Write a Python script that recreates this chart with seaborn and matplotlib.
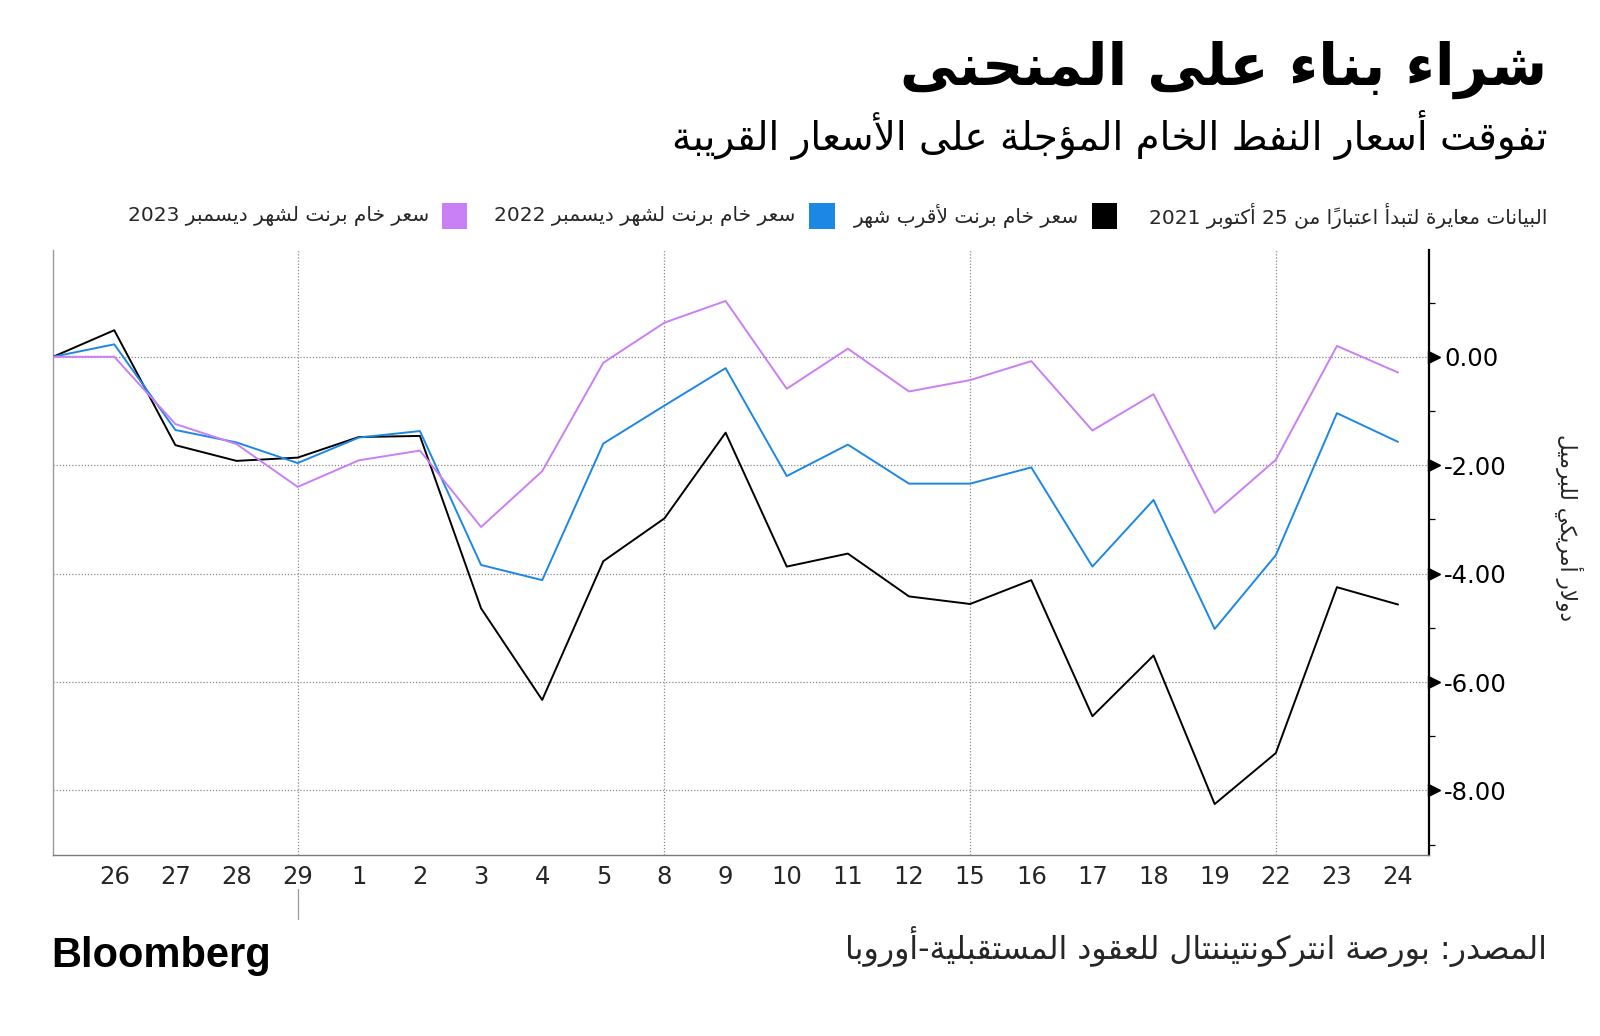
import numpy as np
import pandas as pd
import matplotlib
matplotlib.use("Agg")
import matplotlib.pyplot as plt
import matplotlib.transforms as mtransforms
from matplotlib import font_manager
from matplotlib.patches import Rectangle
import seaborn as sns

# ---------------- data ----------------
days = ["25", "26", "27", "28", "29", "1", "2", "3", "4", "5", "8", "9", "10",
        "11", "12", "15", "16", "17", "18", "19", "22", "23", "24"]
front_month = [0, 0.49, -1.63, -1.92, -1.86, -1.48, -1.46, -4.64, -6.33, -3.77, -2.98, -1.40,
               -3.87, -3.63, -4.42, -4.56, -4.12, -6.63, -5.51, -8.25, -7.31, -4.25, -4.57]
dec_2022 = [0, 0.23, -1.35, -1.58, -1.96, -1.49, -1.37, -3.84, -4.12, -1.60, -0.90, -0.21,
            -2.20, -1.62, -2.34, -2.34, -2.04, -3.87, -2.64, -5.02, -3.66, -1.04, -1.57]
dec_2023 = [0, 0.0, -1.24, -1.61, -2.40, -1.91, -1.73, -3.14, -2.11, -0.11, 0.63, 1.03,
            -0.59, 0.15, -0.64, -0.43, -0.08, -1.36, -0.69, -2.88, -1.90, 0.20, -0.29]
week_starts = ["29", "8", "15", "22"]
month_mark = ["29"]
y_major = [0, -2, -4, -6, -8]
y_major_labels = ["0.00", "-2.00", "-4.00", "-6.00", "-8.00"]
y_minor = [1, -1, -3, -5, -7, -9]

series_names = ["سعر خام برنت لأقرب شهر",
                "سعر خام برنت لشهر ديسمبر 2022",
                "سعر خام برنت لشهر ديسمبر 2023"]
series_colors = ["#000000", "#1d87e6", "#c97ff5"]
legend_note = "البيانات معايرة لتبدأ اعتباراً من 25 أكتوبر 2021"
title = "شراء بناء على المنحنى"
subtitle = "تفوقت أسعار النفط الخام المؤجلة على الأسعار القريبة"
y_label = "دولار أمريكي للبرميل"
source = "المصدر: بورصة انتركونتيننتال للعقود المستقبلية-أوروبا"

# ------------- minimal Arabic shaping (presentation forms, visual order) -------------
_AR = {}
for ch, base, n in [(0x0621, 0xFE80, 1), (0x0622, 0xFE81, 2), (0x0623, 0xFE83, 2), (0x0624, 0xFE85, 2),
                    (0x0625, 0xFE87, 2), (0x0626, 0xFE89, 4), (0x0627, 0xFE8D, 2), (0x0628, 0xFE8F, 4),
                    (0x0629, 0xFE93, 2), (0x062A, 0xFE95, 4), (0x062B, 0xFE99, 4), (0x062C, 0xFE9D, 4),
                    (0x062D, 0xFEA1, 4), (0x062E, 0xFEA5, 4), (0x062F, 0xFEA9, 2), (0x0630, 0xFEAB, 2),
                    (0x0631, 0xFEAD, 2), (0x0632, 0xFEAF, 2), (0x0633, 0xFEB1, 4), (0x0634, 0xFEB5, 4),
                    (0x0635, 0xFEB9, 4), (0x0636, 0xFEBD, 4), (0x0637, 0xFEC1, 4), (0x0638, 0xFEC5, 4),
                    (0x0639, 0xFEC9, 4), (0x063A, 0xFECD, 4), (0x0641, 0xFED1, 4), (0x0642, 0xFED5, 4),
                    (0x0643, 0xFED9, 4), (0x0644, 0xFEDD, 4), (0x0645, 0xFEE1, 4), (0x0646, 0xFEE5, 4),
                    (0x0647, 0xFEE9, 4), (0x0648, 0xFEED, 2), (0x0649, 0xFEEF, 2), (0x064A, 0xFEF1, 4)]:
    _AR[chr(ch)] = (base, n)
_LAMALEF = {"\u0622": 0xFEF5, "\u0623": 0xFEF7, "\u0625": 0xFEF9, "\u0627": 0xFEFB}
_MARKS = set(chr(c) for c in range(0x064B, 0x0653)) | {"\u0670"}


def _jtype(ch):
    if ch in _AR:
        n = _AR[ch][1]
        return "D" if n == 4 else ("R" if n == 2 else "U")
    return "U"


def ar(text):
    units = []
    i = 0
    while i < len(text):
        c = text[i]
        if c in _MARKS and units:
            units[-1][2] += c
            i += 1
            continue
        if c == "\u0644" and i + 1 < len(text) and text[i + 1] in _LAMALEF:
            units.append([c, text[i + 1], ""])
            i += 2
            continue
        units.append([c, None, ""])
        i += 1
    types = ["R" if u[1] else _jtype(u[0]) for u in units]
    glyphs = []
    for k, (c, lig, marks) in enumerate(units):
        jp = types[k] in ("D", "R") and k > 0 and types[k - 1] == "D"
        jn = types[k] == "D" and k + 1 < len(units) and types[k + 1] in ("D", "R")
        if lig:
            g = chr(_LAMALEF[lig] + (1 if jp else 0))
        elif c in _AR:
            base, n = _AR[c]
            idx = 3 if (jp and jn) else 1 if jp else 2 if jn else 0
            if idx >= n:
                idx = 1 if (jp and n >= 2) else 0
            g = chr(base + idx)
        else:
            g = c
        glyphs.append(g + marks)
    vis = glyphs[::-1]
    out, run = [], []
    for g in vis:
        if g[0].isascii() and (g[0].isalnum() or g[0] in ".,%"):
            run.append(g)
        else:
            if run:
                out.extend(run[::-1])
                run = []
            out.append(g)
    if run:
        out.extend(run[::-1])
    return "".join(out)


# ---------------- figure ----------------
sns.set_theme(style="white")
plt.rcParams["font.family"] = ["DejaVu Sans"]
AR_FONT = ["DejaVu Sans"]
_installed = {f.name for f in font_manager.fontManager.ttflist}
NARROW = "Liberation Sans Narrow" if "Liberation Sans Narrow" in _installed else "DejaVu Sans"
x_label_size = 20 if NARROW != "DejaVu Sans" else 17.5

fig = plt.figure(figsize=(16, 10.36), dpi=100)
fig.patch.set_facecolor("white")
ax = fig.add_axes([0.0332, 0.1747, 0.8597, 0.5840])

idx = np.arange(len(days))
df = pd.DataFrame({
    "x": np.tile(idx, 3),
    "value": front_month + dec_2022 + dec_2023,
    "series": np.repeat(series_names, len(days)),
})
sns.lineplot(data=df, x="x", y="value", hue="series", hue_order=series_names,
             palette=dict(zip(series_names, series_colors)), linewidth=1.4,
             legend=False, ax=ax, zorder=3)

ax.set_xlim(0, len(days) - 0.5)
ax.set_ylim(-9.19, 1.97)
ax.set_xlabel("")
ax.set_ylabel("")

# grid
for yv in y_major:
    ax.axhline(yv, color="#8a8a8a", lw=0.9, ls=(0, (1, 1.5)), zorder=1)
for d in week_starts:
    ax.axvline(days.index(d), color="#8a8a8a", lw=0.9, ls=(0, (1, 1.5)), zorder=1)

# spines
ax.spines["top"].set_visible(False)
ax.spines["left"].set_color("#9a9a9a")
ax.spines["left"].set_linewidth(1.0)
ax.spines["bottom"].set_color("#7a7a7a")
ax.spines["bottom"].set_linewidth(1.0)
ax.spines["right"].set_color("black")
ax.spines["right"].set_linewidth(1.6)

# x ticks
ax.set_xticks(idx)
ax.set_xticklabels([""] + days[1:])
ax.tick_params(axis="x", direction="out", length=4, width=0.8, color="#7a7a7a",
               pad=3, labelsize=x_label_size)
for lab in ax.get_xticklabels():
    lab.set_family([NARROW, "DejaVu Sans"])

# month marker line below axis
btrans = mtransforms.blended_transform_factory(ax.transData, ax.transAxes)
for d in month_mark:
    ax.plot([days.index(d)] * 2, [-0.056, -0.106], color="#9a9a9a", lw=0.9,
            transform=btrans, clip_on=False)

# y ticks on right
ax.yaxis.tick_right()
ax.set_yticks(y_major)
ax.set_yticklabels(y_major_labels)
ax.set_yticks(y_minor, minor=True)
ax.tick_params(axis="y", which="major", length=0, pad=11, labelsize=17.5, colors="black")
ax.tick_params(axis="y", which="minor", direction="out", length=4, width=0.9, color="black", right=True)
ax.tick_params(axis="y", which="both", left=False)
tri_trans = mtransforms.blended_transform_factory(ax.transAxes, ax.transData) + \
    mtransforms.ScaledTranslation(5 / 100, 0, fig.dpi_scale_trans)
ax.plot([1.0] * len(y_major), y_major, ls="none", marker=">", markersize=8.5, color="black",
        transform=tri_trans, clip_on=False, zorder=5)

# ---------------- texts ----------------
fig.text(0.967, 0.933, ar(title), ha="right", va="center", fontsize=41.5, fontweight="bold",
         family=AR_FONT, color="black")
fig.text(0.967, 0.870, ar(subtitle), ha="right", va="center", fontsize=28, family=AR_FONT,
         color="black")

leg_y = 0.7915
fig.text(0.967, leg_y, ar(legend_note), ha="right", va="center", fontsize=14.5, family=AR_FONT)
sq_w, sq_h = 0.016, 0.0246
for name, col, sq_x, tx in zip(series_names, series_colors,
                               [0.6824, 0.5057, 0.2761], [0.6747, 0.4974, 0.2685]):
    fig.patches.append(Rectangle((sq_x, leg_y - sq_h / 2), sq_w, sq_h, transform=fig.transFigure,
                                 facecolor=col, edgecolor="none"))
    fig.text(tx, leg_y, ar(name), ha="right", va="center", fontsize=14.5, family=AR_FONT)

fig.text(0.981, 0.491, ar(y_label), ha="center", va="center", rotation=-90, fontsize=15.5,
         family=AR_FONT)

fig.text(0.967, 0.086, ar(source), ha="right", va="center", fontsize=22.8, family=AR_FONT)
fig.text(0.032, 0.077, "Bloomberg", ha="left", va="center", fontsize=30, fontweight="bold",
         family=["Liberation Sans", "DejaVu Sans"], color="black")

fig.savefig("out.png", dpi=100, facecolor="white")
